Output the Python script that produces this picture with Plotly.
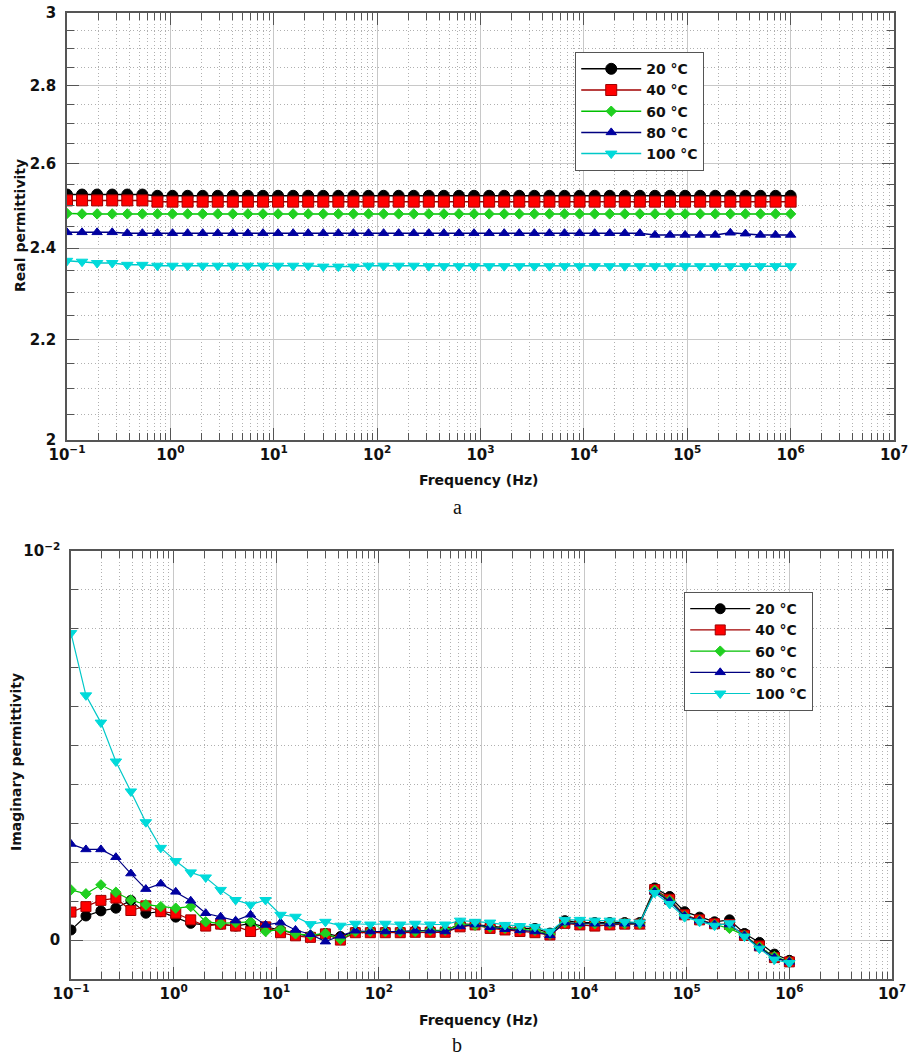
import math
import plotly.graph_objects as go

# ---------------- data ----------------
freq = [0.1, 0.1398, 0.1956, 0.2738, 0.3831, 0.5361, 0.7499, 1.049, 1.468, 2.054,
        2.873, 4.020, 5.623, 7.868, 11.01, 15.40, 21.54, 30.14, 42.17, 59.00,
        82.54, 115.5, 161.6, 226.0, 316.2, 442.4, 619.0, 866.0, 1212, 1695,
        2371, 3318, 4642, 6494, 9085, 12711, 17783, 24879, 34807, 48697,
        68129, 95316, 133352, 186566, 261016, 365174, 510897, 714775, 1000000]

temps = ["20 °C", "40 °C", "60 °C", "80 °C", "100 °C"]

real_20 = [2.525, 2.525, 2.525, 2.525, 2.525, 2.525, 2.522, 2.522, 2.522, 2.522,
           2.522, 2.522, 2.522, 2.522, 2.522, 2.522, 2.522, 2.522, 2.522, 2.522,
           2.522, 2.522, 2.522, 2.522, 2.522, 2.522, 2.522, 2.522, 2.522, 2.522,
           2.522, 2.522, 2.522, 2.522, 2.522, 2.522, 2.522, 2.522, 2.522, 2.522,
           2.522, 2.522, 2.522, 2.522, 2.522, 2.522, 2.522, 2.522, 2.522]
real_40 = [2.511, 2.511, 2.511, 2.511, 2.511, 2.511, 2.508, 2.508, 2.508, 2.508,
           2.508, 2.508, 2.508, 2.508, 2.508, 2.508, 2.508, 2.508, 2.508, 2.508,
           2.508, 2.508, 2.508, 2.508, 2.508, 2.508, 2.508, 2.508, 2.508, 2.508,
           2.508, 2.508, 2.508, 2.508, 2.508, 2.508, 2.508, 2.508, 2.508, 2.508,
           2.508, 2.508, 2.508, 2.508, 2.508, 2.508, 2.508, 2.508, 2.508]
real_60 = [2.480, 2.479, 2.479, 2.479, 2.479, 2.479, 2.479, 2.479, 2.479, 2.479,
           2.479, 2.479, 2.479, 2.479, 2.479, 2.479, 2.479, 2.479, 2.479, 2.479,
           2.479, 2.479, 2.479, 2.479, 2.479, 2.479, 2.479, 2.479, 2.479, 2.479,
           2.479, 2.479, 2.479, 2.479, 2.479, 2.479, 2.479, 2.479, 2.479, 2.479,
           2.479, 2.479, 2.479, 2.479, 2.479, 2.479, 2.479, 2.479, 2.479]
real_80 = [2.436, 2.436, 2.436, 2.436, 2.434, 2.434, 2.434, 2.434, 2.434, 2.434,
           2.434, 2.434, 2.434, 2.434, 2.434, 2.434, 2.434, 2.434, 2.434, 2.434,
           2.434, 2.434, 2.434, 2.434, 2.434, 2.434, 2.434, 2.434, 2.434, 2.434,
           2.434, 2.434, 2.434, 2.434, 2.434, 2.434, 2.434, 2.434, 2.434, 2.430,
           2.430, 2.430, 2.430, 2.430, 2.435, 2.433, 2.430, 2.430, 2.430]
real_100 = [2.371, 2.369, 2.366, 2.366, 2.362, 2.362, 2.360, 2.360, 2.360, 2.360,
            2.360, 2.360, 2.360, 2.360, 2.360, 2.360, 2.360, 2.358, 2.358, 2.358,
            2.360, 2.360, 2.360, 2.360, 2.359, 2.359, 2.359, 2.359, 2.359, 2.359,
            2.359, 2.359, 2.359, 2.359, 2.359, 2.359, 2.359, 2.359, 2.359, 2.359,
            2.359, 2.359, 2.359, 2.359, 2.359, 2.359, 2.359, 2.359, 2.359]

# imaginary permittivity, in units of 1e-3
imag_20_m3 = [0.26, 0.62, 0.75, 0.82, 1.02, 0.69, 0.73, 0.59, 0.43, 0.39,
              0.41, 0.36, 0.43, 0.34, 0.26, 0.16, 0.10, 0.17, 0.09, 0.22,
              0.22, 0.22, 0.22, 0.24, 0.25, 0.24, 0.42, 0.40, 0.36, 0.32,
              0.30, 0.30, 0.18, 0.50, 0.45, 0.45, 0.45, 0.45, 0.45, 1.34,
              1.12, 0.73, 0.59, 0.47, 0.52, 0.17, -0.06, -0.36, -0.52]
imag_40_m3 = [0.72, 0.86, 1.02, 1.08, 0.76, 0.88, 0.73, 0.69, 0.52, 0.36,
              0.41, 0.36, 0.22, 0.34, 0.19, 0.11, 0.07, 0.16, 0.00, 0.19,
              0.19, 0.19, 0.19, 0.20, 0.20, 0.20, 0.34, 0.39, 0.30, 0.26,
              0.22, 0.19, 0.13, 0.43, 0.39, 0.36, 0.39, 0.41, 0.41, 1.30,
              1.05, 0.65, 0.52, 0.42, 0.40, 0.12, -0.15, -0.45, -0.56]
imag_60_m3 = [1.29, 1.19, 1.42, 1.23, 1.03, 0.91, 0.86, 0.82, 0.86, 0.47,
              0.43, 0.45, 0.47, 0.22, 0.28, 0.16, 0.13, 0.17, 0.02, 0.22,
              0.22, 0.22, 0.22, 0.22, 0.25, 0.25, 0.40, 0.38, 0.33, 0.30,
              0.28, 0.25, 0.15, 0.45, 0.42, 0.42, 0.43, 0.42, 0.42, 1.28,
              1.02, 0.62, 0.50, 0.40, 0.30, 0.12, -0.18, -0.42, -0.56]
imag_80_m3 = [2.47, 2.33, 2.33, 2.13, 1.71, 1.31, 1.45, 1.24, 1.01, 0.69,
              0.60, 0.50, 0.65, 0.39, 0.45, 0.26, 0.15, -0.04, 0.11, 0.24,
              0.22, 0.22, 0.22, 0.24, 0.24, 0.22, 0.35, 0.40, 0.33, 0.28,
              0.25, 0.22, 0.12, 0.45, 0.42, 0.42, 0.42, 0.42, 0.42, 1.25,
              1.00, 0.62, 0.50, 0.40, 0.40, 0.12, -0.20, -0.45, -0.56]
imag_100_m3 = [7.89, 6.29, 5.59, 4.59, 3.82, 3.03, 2.37, 2.03, 1.74, 1.61,
               1.29, 1.03, 0.91, 1.03, 0.65, 0.60, 0.41, 0.47, 0.37, 0.42,
               0.40, 0.42, 0.40, 0.42, 0.40, 0.40, 0.50, 0.47, 0.45, 0.39,
               0.36, 0.34, 0.22, 0.52, 0.52, 0.50, 0.50, 0.47, 0.45, 1.21,
               0.93, 0.59, 0.47, 0.37, 0.43, 0.09, -0.22, -0.50, -0.59]

x_tickvals = [0.1, 1, 10, 100, 1e3, 1e4, 1e5, 1e6, 1e7]
x_ticktext = ["10<sup>−1</sup>", "10<sup>0</sup>", "10<sup>1</sup>", "10<sup>2</sup>",
              "10<sup>3</sup>", "10<sup>4</sup>", "10<sup>5</sup>", "10<sup>6</sup>",
              "10<sup>7</sup>"]
y1_tickvals = [2, 2.2, 2.4, 2.6, 2.8, 3]
y1_ticktext = ["2", "2.2", "2.4", "2.6", "2.8", "3"]
y2_tickvals = [0, 0.01]
y2_ticktext = ["0", "10<sup>−2</sup>"]

# ---------------- styling ----------------
line_colors = ["#000000", "#a00000", "#00c000", "#000080", "#00c8c8"]
marker_colors = ["#000000", "#ff0000", "#20d020", "#0000a0", "#00dada"]
marker_lines = ["#000000", "#a00000", "#20d020", "#0000a0", "#00dada"]
symbols = ["circle", "square", "diamond", "triangle-up", "triangle-down"]
sizes_top = [11, 11, 8, 9, 10]
sizes_bot = [10, 10, 8, 9, 10]

real_series = [real_20, real_40, real_60, real_80, real_100]
imag_series = [[v * 1e-3 for v in s] for s in
               [imag_20_m3, imag_40_m3, imag_60_m3, imag_80_m3, imag_100_m3]]

fig = go.Figure()
for i, name in enumerate(temps):
    fig.add_trace(go.Scatter(
        x=freq, y=real_series[i], name=name, mode="lines+markers",
        xaxis="x", yaxis="y", legend="legend",
        line=dict(color=line_colors[i], width=1.5),
        marker=dict(symbol=symbols[i], size=sizes_top[i], color=marker_colors[i],
                    line=dict(color=marker_lines[i], width=1)),
    ))
for i, name in enumerate(temps):
    fig.add_trace(go.Scatter(
        x=freq, y=imag_series[i], name=name, mode="lines+markers",
        xaxis="x2", yaxis="y2", legend="legend2",
        line=dict(color=line_colors[i], width=1.2),
        marker=dict(symbol=symbols[i], size=sizes_bot[i], color=marker_colors[i],
                    line=dict(color=marker_lines[i], width=1)),
    ))

FONT = "DejaVu Sans"
axis_col = "#555555"
grid_col = "#c8c8c8"
minor_grid_col = "#b0b0b0"
DOTS = "1px,2.5px"

x_minor = [k * 10.0 ** d for d in range(-1, 7) for k in range(2, 10)]
y1_minor = [2.05, 2.1, 2.15, 2.25, 2.3, 2.35, 2.45, 2.5, 2.55, 2.65, 2.7, 2.75,
            2.85, 2.9, 2.95]
y2_minor = [-0.001, 0.001, 0.002, 0.003, 0.004, 0.005, 0.006, 0.007, 0.008, 0.009]

def xaxis_style(domain, anchor):
    return dict(
        type="log", range=[-1, 7], domain=domain, anchor=anchor, automargin=False,
        tickmode="array", tickvals=x_tickvals, ticktext=x_ticktext,
        ticks="inside", ticklen=12, tickwidth=1.2, tickcolor=axis_col,
        showline=True, linecolor=axis_col, linewidth=1.5, mirror="allticks",
        showgrid=True, gridcolor=grid_col, gridwidth=1, zeroline=False,
        tickfont=dict(family=FONT, size=15, color="#111111", weight="bold"),
        minor=dict(tickmode="array", tickvals=x_minor, ticks="inside", ticklen=7,
                   tickwidth=1, tickcolor=axis_col, showgrid=True,
                   gridcolor=minor_grid_col, griddash=DOTS, gridwidth=1),
    )

legend_common = dict(
    xanchor="left", yanchor="top",
    bgcolor="white", bordercolor="#555555", borderwidth=1.2,
    font=dict(family=FONT, size=14, color="#111111", weight="bold"),
    tracegroupgap=0, itemwidth=60,
)

layout = dict(
    width=909, height=1057, autosize=False,
    margin=dict(l=0, r=0, t=0, b=0, pad=0, autoexpand=False),
    paper_bgcolor="white", plot_bgcolor="white",
    showlegend=True,
    xaxis=xaxis_style([0.0737, 0.9835], "y"),
    xaxis2=xaxis_style([0.0781, 0.9813], "y2"),
    yaxis=dict(
        type="log", range=[math.log10(2), math.log10(3)], domain=[0.5837, 0.9877],
        anchor="x", automargin=False,
        tickmode="array", tickvals=y1_tickvals, ticktext=y1_ticktext,
        ticks="inside", ticklen=12, tickwidth=1.2, tickcolor=axis_col,
        showline=True, linecolor=axis_col, linewidth=1.5, mirror="allticks",
        showgrid=True, gridcolor=grid_col, gridwidth=1, zeroline=False,
        ticklabelstandoff=6,
        tickfont=dict(family=FONT, size=15, color="#111111", weight="bold"),
        minor=dict(tickmode="array", tickvals=y1_minor, ticks="inside", ticklen=7,
                   tickwidth=1, tickcolor=axis_col, showgrid=True,
                   gridcolor=minor_grid_col, griddash=DOTS, gridwidth=1),
    ),
    yaxis2=dict(
        type="linear", range=[-0.001, 0.01], domain=[0.0738, 0.4787],
        anchor="x2", automargin=False,
        tickmode="array", tickvals=y2_tickvals, ticktext=y2_ticktext,
        ticks="inside", ticklen=12, tickwidth=1.2, tickcolor=axis_col,
        showline=True, linecolor=axis_col, linewidth=1.5, mirror="allticks",
        showgrid=True, gridcolor=grid_col, gridwidth=1, zeroline=False,
        ticklabelstandoff=6,
        tickfont=dict(family=FONT, size=15, color="#111111", weight="bold"),
        minor=dict(tickmode="array", tickvals=y2_minor, ticks="inside", ticklen=7,
                   tickwidth=1, tickcolor=axis_col, showgrid=True,
                   gridcolor=minor_grid_col, griddash=DOTS, gridwidth=1),
    ),
    legend=dict(x=0.6326, y=0.9508, **legend_common),
    legend2=dict(x=0.7525, y=0.4400, **legend_common),
)
fig.update_layout(**layout)

title_font = dict(family=FONT, size=14, color="#111111", weight="bold")
annots = [
    dict(text="Real permittivity", x=20 / 909, y=1 - 226 / 1057, textangle=-90,
         font=title_font),
    dict(text="Frequency (Hz)", x=478 / 909, y=1 - 480 / 1057, font=title_font),
    dict(text="a", x=457 / 909, y=1 - 507 / 1057,
         font=dict(family="Liberation Serif", size=20, color="#111111")),
    dict(text="Imaginary permittivity", x=16 / 909, y=1 - 762 / 1057, textangle=-90,
         font=title_font),
    dict(text="Frequency (Hz)", x=478 / 909, y=1 - 1020 / 1057, font=title_font),
    dict(text="b", x=457 / 909, y=1 - 1045 / 1057,
         font=dict(family="Liberation Serif", size=20, color="#111111")),
]
for a in annots:
    fig.add_annotation(xref="paper", yref="paper", showarrow=False,
                       xanchor="center", yanchor="middle", **a)

fig.write_html(
    "out.html",
    config={"displayModeBar": False},
    post_script="document.body.style.margin='0';document.body.style.overflow='hidden';",
)
